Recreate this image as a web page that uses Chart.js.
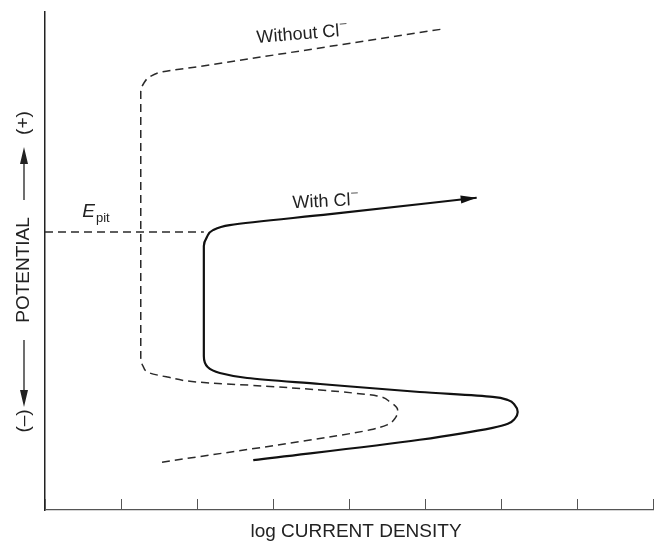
<!DOCTYPE html>
<html>
<head>
<meta charset="utf-8">
<script src="https://cdn.jsdelivr.net/npm/chart.js@4"></script>
<style>
  html, body { margin: 0; padding: 0; background: #fff; }
</style>
</head>
<body>
<canvas id="polCurve" width="655" height="541"></canvas>
<script>
"use strict"

// log current density (decades) and potential (arbitrary units)
const noClX = [1.54, 3.84, 4.28, 4.50, 4.61, 4.64, 4.54, 4.37, 4.05, 3.62, 2.87, 2.00, 1.61, 1.38, 1.29, 1.26, 1.26, 1.30, 1.39, 1.55, 2.00, 3.75, 5.24];
const noClY = [0.96, 1.49, 1.61, 1.71, 1.85, 2.01, 2.17, 2.29, 2.35, 2.41, 2.49, 2.57, 2.67, 2.75, 2.89, 3.09, 8.39, 8.57, 8.71, 8.80, 8.90, 9.31, 9.66];

const withClX = [2.74, 4.93, 5.89, 6.09, 6.18, 6.22, 6.18, 6.09, 5.89, 4.93, 3.62, 2.66, 2.30, 2.14, 2.09, 2.09, 2.13, 2.21, 2.43, 3.75, 5.68];
const withClY = [1.00, 1.41, 1.65, 1.73, 1.83, 1.97, 2.11, 2.21, 2.27, 2.37, 2.53, 2.65, 2.75, 2.87, 3.09, 5.30, 5.48, 5.62, 5.72, 5.94, 6.27];

const epitX = [0, 2.09];
const epitY = [5.58, 5.58];

const xTicks = [0, 1, 2, 3, 4, 5, 6, 7, 8];

const FONT = '"Liberation Sans", Arial, Helvetica, sans-serif';

function toPoints(xs, ys) {
    return xs.map((x, i) => ({ x: x, y: ys[i] }));
}

const decorPlugin = {
    id: 'decor',
    afterDraw(chart) {
        const ctx = chart.ctx;
        const sx = chart.scales.x;
        const sy = chart.scales.y;
        const bottom = chart.chartArea.bottom;

        ctx.save();

        // tick marks pointing up into the plot
        ctx.strokeStyle = '#555';
        ctx.lineWidth = 1;
        xTicks.forEach(t => {
            const px = Math.round(sx.getPixelForValue(t)) + 0.5;
            ctx.beginPath();
            ctx.moveTo(px, bottom);
            ctx.lineTo(px, bottom - 11);
            ctx.stroke();
        });

        // arrow head on the "with Cl-" curve
        const n = withClX.length;
        const x1 = sx.getPixelForValue(withClX[n - 2]), y1 = sy.getPixelForValue(withClY[n - 2]);
        const x2 = sx.getPixelForValue(withClX[n - 1]), y2 = sy.getPixelForValue(withClY[n - 1]);
        const ang = Math.atan2(y2 - y1, x2 - x1);
        ctx.translate(x2, y2);
        ctx.rotate(ang);
        ctx.fillStyle = '#111';
        ctx.beginPath();
        ctx.moveTo(0, 0);
        ctx.lineTo(-16, -4);
        ctx.lineTo(-16, 4);
        ctx.closePath();
        ctx.fill();
        ctx.setTransform(1, 0, 0, 1, 0, 0);

        ctx.fillStyle = '#222';
        ctx.textBaseline = 'alphabetic';
        ctx.textAlign = 'left';

        function curveLabel(text, xv, yv, rot) {
            ctx.save();
            ctx.translate(sx.getPixelForValue(xv), sy.getPixelForValue(yv));
            ctx.rotate(rot);
            ctx.font = '18px ' + FONT;
            ctx.fillText(text, 0, 0);
            const w = ctx.measureText(text).width;
            ctx.font = '12px ' + FONT;
            ctx.fillText('\u2013', w + 1, -9);
            ctx.restore();
        }
        curveLabel('Without Cl', 2.79, 9.38, -0.08);
        curveLabel('With Cl', 3.26, 6.06, -0.05);

        // E_pit
        const ex = sx.getPixelForValue(0.49), ey = sy.getPixelForValue(5.88);
        ctx.font = 'italic 19px ' + FONT;
        ctx.fillText('E', ex, ey);
        const ew = ctx.measureText('E').width;
        ctx.font = '13px ' + FONT;
        ctx.fillText('pit', ex + ew + 1, ey + 5);

        // x axis title
        ctx.font = '19px ' + FONT;
        ctx.textAlign = 'center';
        ctx.fillText('log CURRENT DENSITY', 356, 537);

        // y axis title, drawn rotated with arrows
        ctx.translate(24, 0);
        ctx.rotate(-Math.PI / 2);
        ctx.textBaseline = 'middle';
        ctx.font = '19px ' + FONT;
        ctx.fillText('(\u2013)', -421, 0);
        ctx.fillText('POTENTIAL', -270, 0);
        ctx.fillText('(+)', -123, 0);
        ctx.strokeStyle = '#222';
        ctx.lineWidth = 1.3;
        ctx.beginPath();
        ctx.moveTo(-340, 0); ctx.lineTo(-395, 0);
        ctx.moveTo(-200, 0); ctx.lineTo(-158, 0);
        ctx.stroke();
        ctx.beginPath();
        ctx.moveTo(-407, 0); ctx.lineTo(-390, -4); ctx.lineTo(-390, 4); ctx.closePath();
        ctx.moveTo(-147, 0); ctx.lineTo(-164, -4); ctx.lineTo(-164, 4); ctx.closePath();
        ctx.fill();

        ctx.restore();
    }
};

const config = {
    type: 'line',
    data: {
        datasets: [
            {
                label: 'Without Cl-',
                data: toPoints(noClX, noClY),
                borderColor: '#2a2a2a',
                borderWidth: 1.5,
                borderDash: [8, 5],
                cubicInterpolationMode: 'monotone',
                pointRadius: 0
            },
            {
                label: 'With Cl-',
                data: toPoints(withClX, withClY),
                borderColor: '#111',
                borderWidth: 2.2,
                cubicInterpolationMode: 'monotone',
                pointRadius: 0
            },
            {
                label: 'E pit',
                data: toPoints(epitX, epitY),
                borderColor: '#2a2a2a',
                borderWidth: 1.5,
                borderDash: [8, 5],
                tension: 0,
                pointRadius: 0
            }
        ]
    },
    options: {
        indexAxis: 'y',
        responsive: false,
        animation: false,
        layout: {
            padding: { left: 45, right: 2, top: 12, bottom: 31 }
        },
        plugins: {
            legend: { display: false },
            tooltip: { enabled: false }
        },
        scales: {
            x: {
                type: 'linear',
                min: 0,
                max: 8,
                ticks: { display: false, stepSize: 1 },
                grid: { display: false, drawTicks: false },
                border: { display: true, color: '#555', width: 1.3 }
            },
            y: {
                type: 'linear',
                min: 0,
                max: 10,
                ticks: { display: false },
                grid: { display: false, drawTicks: false },
                border: { display: true, color: '#222', width: 1.5 }
            }
        }
    },
    plugins: [decorPlugin]
};

const canvas = document.getElementById('polCurve').getContext('2d');
const chart1 = new Chart(canvas, config);
</script>
</body>
</html>
